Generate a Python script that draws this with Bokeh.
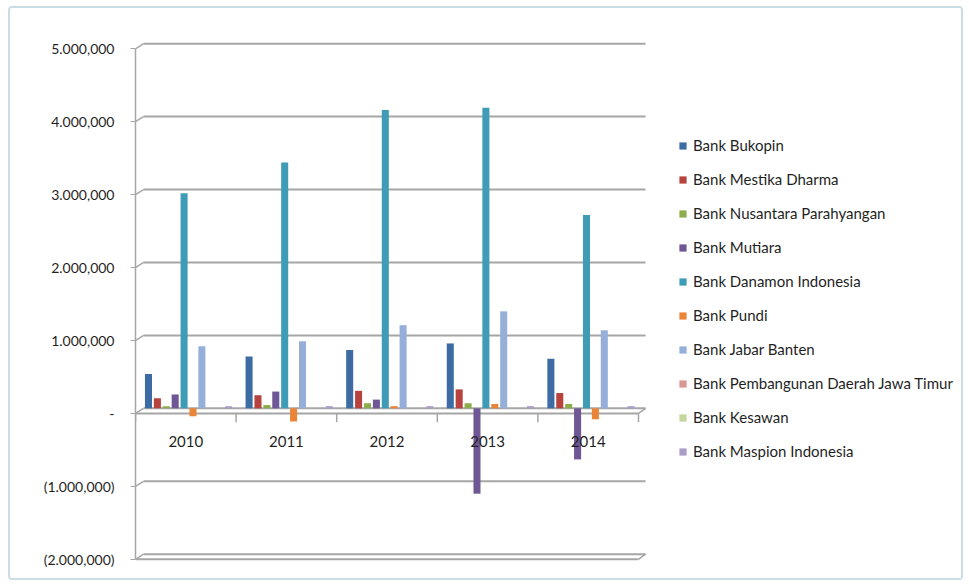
from bokeh.plotting import figure
from bokeh.models import (Range1d, Legend, LegendItem, ColumnDataSource,
                          FixedTicker, LinearAxis)
from bokeh.embed import file_html
from bokeh.resources import INLINE

years = ["2010", "2011", "2012", "2013", "2014"]
banks = ["Bank Bukopin", "Bank Mestika Dharma", "Bank Nusantara Parahyangan", "Bank Mutiara",
         "Bank Danamon Indonesia", "Bank Pundi", "Bank Jabar Banten",
         "Bank Pembangunan Daerah Jawa Timur", "Bank Kesawan", "Bank Maspion Indonesia"]
bukopin = [470000, 710000, 800000, 890000, 680000]
mestika_dharma = [140000, 180000, 240000, 260000, 210000]
nusantara_parahyangan = [30000, 45000, 70000, 70000, 60000]
mutiara = [190000, 230000, 120000, -1170000, -700000]
danamon_indonesia = [2950000, 3370000, 4090000, 4120000, 2650000]
pundi = [-110000, -180000, 30000, 60000, -150000]
jabar_banten = [850000, 920000, 1140000, 1330000, 1070000]
bpd_jawa_timur = [0, 0, 0, 0, 0]
kesawan = [0, 0, 0, 0, 0]
maspion_indonesia = [30000, 30000, 30000, 30000, 30000]
series = [bukopin, mestika_dharma, nusantara_parahyangan, mutiara, danamon_indonesia,
          pundi, jabar_banten, bpd_jawa_timur, kesawan, maspion_indonesia]

y_ticks = [-2000000, -1000000, 0, 1000000, 2000000, 3000000, 4000000, 5000000]
y_tick_labels = ["(2.000,000)", "(1.000,000)", "-", "1.000,000", "2.000,000",
                 "3.000,000", "4.000,000", "5.000,000"]

colors = ["#3c6ca3", "#b7433f", "#8cad4b", "#6f5795", "#3e9cb6", "#ea8538",
          "#95afd8", "#d99694", "#c3d69b", "#ab9dc6"]

FONT = "Lato"
TXT = "#1f1f1f"
GRID = "#a6a6a6"

# 3-D look: front plane is shifted down by DEPTH_Y (value units) and left by DEPTH_X
DEPTH_Y = 70000
DEPTH_X = 0.08
n_cat = len(years)
W, H = 955, 574
LEFT = 125
x_end = (W - LEFT) / 100.6

p = figure(width=W, height=H, x_range=Range1d(0, x_end),
           y_range=Range1d(-2100000, 5030000),
           output_backend="svg", toolbar_location=None, y_axis_location=None,
           x_axis_location=None,
           min_border_left=LEFT, min_border_right=0,
           min_border_top=33, min_border_bottom=21,
           styles={"margin-left": "8px", "margin-top": "6px",
                   "border": "2px solid #cadde6", "border-radius": "4px"})
p.outline_line_color = None
p.background_fill_color = "white"
p.border_fill_color = "white"
p.xgrid.grid_line_color = None
p.ygrid.grid_line_color = None

# front-plane value axis
p.extra_y_ranges = {"front": Range1d(-2100000 + DEPTH_Y, 5030000 + DEPTH_Y)}
yax = LinearAxis(y_range_name="front", ticker=FixedTicker(ticks=y_ticks))
yax.bounds = (y_ticks[0], y_ticks[-1])
yax.major_label_overrides = {t: l for t, l in zip(y_ticks, y_tick_labels)}
yax.axis_line_color = GRID
yax.axis_line_width = 1.5
yax.major_tick_line_color = GRID
yax.major_tick_out = 5
yax.major_tick_in = 0
yax.minor_tick_line_color = None
yax.major_label_standoff = 16
yax.major_label_text_font = FONT
yax.major_label_text_font_size = "14px"
yax.major_label_text_color = TXT
p.add_layout(yax, "left")

# back-wall gridlines with connectors to the front axis
grid_src = ColumnDataSource(dict(
    y=y_ticks,
    yf=[t - DEPTH_Y for t in y_ticks],
    x0=[DEPTH_X] * len(y_ticks), x1=[n_cat + DEPTH_X - 0.01] * len(y_ticks),
    xa=[0] * len(y_ticks)))
p.segment(x0="x0", x1="x1", y0="y", y1="y", source=grid_src, line_color=GRID, line_width=2)
p.segment(x0="xa", x1="x0", y0="yf", y1="y", source=grid_src, line_color=GRID, line_width=1.5)

# front edges of floor (at zero) and of the bottom slab (at -2,000,000)
edge_vals = [0, y_ticks[0]]
edge_src = ColumnDataSource(dict(
    yf=[v - DEPTH_Y for v in edge_vals], yb=edge_vals,
    x0=[0] * 2, x1=[n_cat] * 2, x2=[n_cat + DEPTH_X - 0.01] * 2))
p.segment(x0="x0", x1="x1", y0="yf", y1="yf", source=edge_src, line_color=GRID, line_width=2)
p.segment(x0="x1", x1="x2", y0="yf", y1="yb", source=edge_src, line_color=GRID, line_width=1.5)

# category boundary ticks on the front floor edge
bounds_x = list(range(n_cat + 1))
tick_src = ColumnDataSource(dict(x=bounds_x, y0=[-DEPTH_Y] * len(bounds_x),
                                 y1=[-DEPTH_Y - 120000] * len(bounds_x)))
p.segment(x0="x", x1="x", y0="y0", y1="y1", source=tick_src, line_color=GRID, line_width=1.5)

# category labels
cat_centers = [i + 0.5 for i in range(n_cat)]
xax = LinearAxis(ticker=FixedTicker(ticks=cat_centers))
xax.major_label_overrides = {c: y for c, y in zip(cat_centers, years)}
xax.fixed_location = -DEPTH_Y
xax.axis_line_color = None
xax.major_tick_line_color = None
xax.minor_tick_line_color = None
xax.major_label_standoff = 17
xax.major_label_text_font = FONT
xax.major_label_text_font_size = "15px"
xax.major_label_text_color = TXT
p.add_layout(xax, "below")

# bars
first_off = 0.129
step = 0.0885
width = 0.07
items = []
for k, (name, vals, col) in enumerate(zip(banks, series, colors)):
    xs = [i + first_off + k * step for i in range(n_cat)]
    src = ColumnDataSource(dict(x=xs, value=vals, year=years))
    r = p.vbar(x="x", top="value", bottom=0, width=width,
               source=src, fill_color=col, line_color=None)
    items.append(LegendItem(label=name, renderers=[r]))

legend = Legend(items=items, location=(543, 100), orientation="vertical",
                border_line_color=None, background_fill_alpha=0,
                glyph_width=9, glyph_height=9, label_height=20, spacing=14,
                padding=0, margin=0, label_standoff=6,
                label_text_font=FONT, label_text_font_size="15px",
                label_text_color=TXT)
p.add_layout(legend)

open("out.html", "w").write(file_html(p, INLINE))
